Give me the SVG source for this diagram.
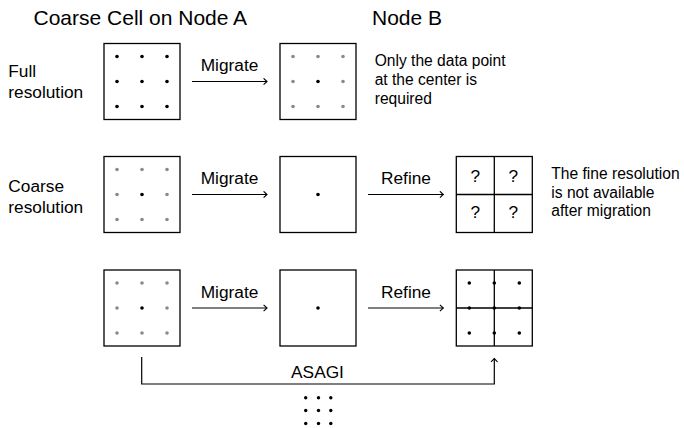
<svg xmlns="http://www.w3.org/2000/svg" width="684" height="428" viewBox="0 0 684 428">
  <defs>
    <style>
      text { font-family: "Liberation Sans", Arial, sans-serif; fill: #000; }
      .title { font-size: 21px; }
      .label { font-size: 17.3px; }
      .note { font-size: 15.6px; }
      .mid { text-anchor: middle; }
      .cell { fill: #fff; stroke: #000; stroke-width: 1.3; }
      .grid { stroke: #000; stroke-width: 1.3; fill: none; }
      .conn { stroke: #000; stroke-width: 1.2; fill: none; marker-end: url(#tip); }
      .dk { fill: #000; }
      .lt { fill: #8a8a8a; }
    </style>
    <marker id="tip" markerUnits="userSpaceOnUse" markerWidth="8" markerHeight="8" refX="4" refY="4" orient="auto">
      <path d="M0.6,0.8 L4,4 L0.6,7.2" fill="none" stroke="#000" stroke-width="1.1"/>
    </marker>
    <!-- 3x3 sample point layouts, centred on the origin -->
    <g id="dotsFull">
      <circle class="dk" cx="-25" cy="-25" r="1.8"/><circle class="dk" cx="0" cy="-25" r="1.8"/><circle class="dk" cx="25" cy="-25" r="1.8"/>
      <circle class="dk" cx="-25" cy="0" r="1.8"/><circle class="dk" cx="0" cy="0" r="1.8"/><circle class="dk" cx="25" cy="0" r="1.8"/>
      <circle class="dk" cx="-25" cy="25" r="1.8"/><circle class="dk" cx="0" cy="25" r="1.8"/><circle class="dk" cx="25" cy="25" r="1.8"/>
    </g>
    <g id="dotsCoarse">
      <circle class="lt" cx="-25" cy="-25" r="1.8"/><circle class="lt" cx="0" cy="-25" r="1.8"/><circle class="lt" cx="25" cy="-25" r="1.8"/>
      <circle class="lt" cx="-25" cy="0" r="1.8"/><circle class="dk" cx="0" cy="0" r="1.8"/><circle class="lt" cx="25" cy="0" r="1.8"/>
      <circle class="lt" cx="-25" cy="25" r="1.8"/><circle class="lt" cx="0" cy="25" r="1.8"/><circle class="lt" cx="25" cy="25" r="1.8"/>
    </g>
  </defs>

  <rect width="684" height="428" fill="#fff"/>

  <!-- column headings -->
  <text class="title" x="33.5" y="25">Coarse Cell on Node A</text>
  <text class="title" x="372" y="25">Node B</text>

  <!-- row labels -->
  <text class="label" x="8.3" y="76.7">Full</text>
  <text class="label" x="8.3" y="98.3">resolution</text>
  <text class="label" x="8.3" y="191.7">Coarse</text>
  <text class="label" x="8.3" y="213.3">resolution</text>

  <!-- row 1: full resolution -->
  <g id="r1-source">
    <rect class="cell" x="104" y="43.5" width="76" height="76"/>
    <use href="#dotsFull" x="142" y="81.5"/>
  </g>
  <g id="r1-target">
    <rect class="cell" x="280" y="43.5" width="76" height="76"/>
    <use href="#dotsCoarse" x="318" y="81.5"/>
  </g>
  <g id="r1-note">
    <text class="note" x="374.7" y="66">Only the data point</text>
    <text class="note" x="374.7" y="84.8">at the center is</text>
    <text class="note" x="374.7" y="103.5">required</text>
  </g>

  <!-- row 2: coarse resolution, refined without data -->
  <g id="r2-source">
    <rect class="cell" x="104" y="156.5" width="76" height="76"/>
    <use href="#dotsCoarse" x="142" y="194.5"/>
  </g>
  <g id="r2-target">
    <rect class="cell" x="280" y="156.5" width="76" height="76"/>
    <circle class="dk" cx="318" cy="194.5" r="1.8"/>
  </g>
  <g id="r2-refined">
    <rect class="cell" x="456.3" y="156.5" width="76" height="76"/>
    <path class="grid" d="M494.3,156.5 V232.5 M456.3,194.5 H532.3"/>
    <text class="label mid" x="475.3" y="181.7">?</text>
    <text class="label mid" x="513.3" y="181.7">?</text>
    <text class="label mid" x="475.3" y="218.3">?</text>
    <text class="label mid" x="513.3" y="218.3">?</text>
  </g>
  <g id="r2-note">
    <text class="note" x="551.3" y="179.3">The fine resolution</text>
    <text class="note" x="551.3" y="197.7">is not available</text>
    <text class="note" x="551.3" y="216.1">after migration</text>
  </g>

  <!-- row 3: refinement filled in through ASAGI -->
  <g id="r3-source">
    <rect class="cell" x="104" y="270" width="76" height="76"/>
    <use href="#dotsCoarse" x="142" y="308"/>
  </g>
  <g id="r3-target">
    <rect class="cell" x="280" y="270" width="76" height="76"/>
    <circle class="dk" cx="318" cy="308" r="1.8"/>
  </g>
  <g id="r3-refined">
    <rect class="cell" x="456.3" y="270" width="76" height="76"/>
    <path class="grid" d="M494.3,270 V346 M456.3,308 H532.3"/>
    <use href="#dotsFull" x="494.3" y="308"/>
  </g>

  <!-- connectors -->
  <g id="connectors">
    <line class="conn" x1="192" y1="81.5" x2="267" y2="81.5"/>
    <line class="conn" x1="192" y1="194.5" x2="267" y2="194.5"/>
    <line class="conn" x1="368" y1="194.5" x2="443.3" y2="194.5"/>
    <line class="conn" x1="192" y1="308" x2="267" y2="308"/>
    <line class="conn" x1="368" y1="308" x2="443.3" y2="308"/>
    <path class="conn" d="M141.7,357 V384 H494.3 V358.5"/>
  </g>

  <!-- connector labels -->
  <text class="label mid" x="229.5" y="71.3">Migrate</text>
  <text class="label mid" x="229.5" y="184.3">Migrate</text>
  <text class="label mid" x="229.5" y="298">Migrate</text>
  <text class="label mid" x="406" y="184.3">Refine</text>
  <text class="label mid" x="406" y="298">Refine</text>
  <text class="label mid" x="317.5" y="377.7">ASAGI</text>

  <!-- continuation mark -->
  <g id="ellipsis">
    <circle class="dk" cx="305.7" cy="397.7" r="1.7"/><circle class="dk" cx="318.5" cy="397.7" r="1.7"/><circle class="dk" cx="330.8" cy="397.7" r="1.7"/>
    <circle class="dk" cx="305.7" cy="410.5" r="1.7"/><circle class="dk" cx="318.5" cy="410.5" r="1.7"/><circle class="dk" cx="330.8" cy="410.5" r="1.7"/>
    <circle class="dk" cx="305.7" cy="423.5" r="1.7"/><circle class="dk" cx="318.5" cy="423.5" r="1.7"/><circle class="dk" cx="330.8" cy="423.5" r="1.7"/>
  </g>
</svg>
